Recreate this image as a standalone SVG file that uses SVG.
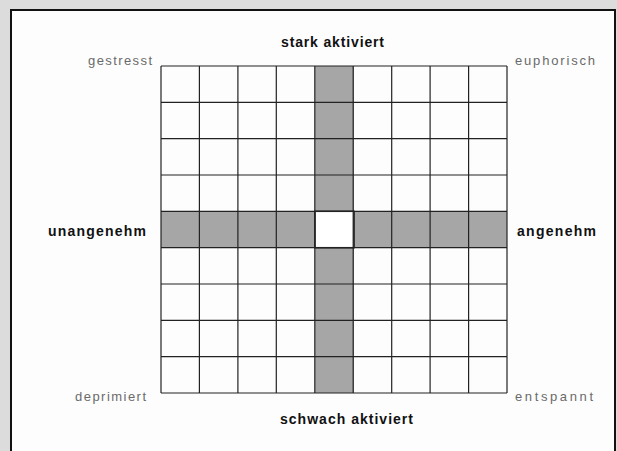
<svg xmlns="http://www.w3.org/2000/svg" width="617" height="451" viewBox="0 0 617 451">
<style>
.lbl{font-family:"Liberation Sans",Arial,sans-serif;font-size:14px;fill:#111}
.b{font-weight:bold}
.c{fill:#6a6a6a;font-size:13px}
.grid line{stroke:#222;stroke-width:1.2}
.band{fill:#a6a6a6}
</style>
<rect x="0" y="0" width="617" height="451" fill="#dcdcdc"/>
<rect x="11" y="10" width="604" height="445" fill="#fdfdfd" stroke="#111" stroke-width="2"/>
<g id="bands">
<rect class="band" x="315" y="66" width="39" height="327"/>
<rect class="band" x="161" y="211.3" width="346" height="36.4"/>
<rect x="315" y="211.3" width="39" height="36.4" fill="#fff" stroke="#111" stroke-width="1.5"/>
</g>
<g id="grid" class="grid">
<line x1="161" y1="66" x2="161" y2="393"/>
<line x1="199.4" y1="66" x2="199.4" y2="393"/>
<line x1="237.9" y1="66" x2="237.9" y2="393"/>
<line x1="276.3" y1="66" x2="276.3" y2="393"/>
<line x1="314.8" y1="66" x2="314.8" y2="393"/>
<line x1="353.2" y1="66" x2="353.2" y2="393"/>
<line x1="391.7" y1="66" x2="391.7" y2="393"/>
<line x1="430.1" y1="66" x2="430.1" y2="393"/>
<line x1="468.6" y1="66" x2="468.6" y2="393"/>
<line x1="507" y1="66" x2="507" y2="393"/>
<line x1="161" y1="66" x2="507" y2="66"/>
<line x1="161" y1="102.3" x2="507" y2="102.3"/>
<line x1="161" y1="138.7" x2="507" y2="138.7"/>
<line x1="161" y1="175" x2="507" y2="175"/>
<line x1="161" y1="211.3" x2="507" y2="211.3"/>
<line x1="161" y1="247.7" x2="507" y2="247.7"/>
<line x1="161" y1="284" x2="507" y2="284"/>
<line x1="161" y1="320.3" x2="507" y2="320.3"/>
<line x1="161" y1="356.7" x2="507" y2="356.7"/>
<line x1="161" y1="393" x2="507" y2="393"/>
</g>
<g id="labels">
<text class="lbl b" x="281" y="47" textLength="103" lengthAdjust="spacing">stark aktiviert</text>
<text class="lbl b" x="280" y="424" textLength="133" lengthAdjust="spacing">schwach aktiviert</text>
<text class="lbl b" x="48" y="236" textLength="98" lengthAdjust="spacing">unangenehm</text>
<text class="lbl b" x="517" y="236" textLength="79" lengthAdjust="spacing">angenehm</text>
<text class="lbl c" x="88" y="65" textLength="64" lengthAdjust="spacing">gestresst</text>
<text class="lbl c" x="515" y="65" textLength="80" lengthAdjust="spacing">euphorisch</text>
<text class="lbl c" x="75" y="401" textLength="71" lengthAdjust="spacing">deprimiert</text>
<text class="lbl c" x="515" y="401" textLength="78" lengthAdjust="spacing">entspannt</text>
</g>
</svg>
